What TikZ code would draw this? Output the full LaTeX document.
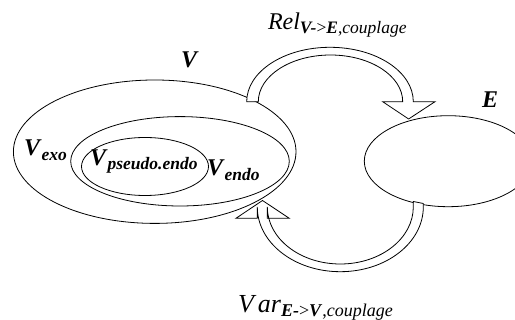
\documentclass[tikz,border=0pt]{standalone}
\usepackage{fontspec}
\setmainfont{Liberation Serif}
\newcommand{\bi}[1]{\textbf{\textit{#1}}}
\newcommand{\fsMain}{\fontsize{24}{24}\selectfont}
\newcommand{\fsBig}{\fontsize{26}{26}\selectfont}
\newcommand{\fsSub}{\fontsize{17.5}{17.5}\selectfont}
\newcommand{\fsSubB}{\fontsize{18}{18}\selectfont}
\begin{document}
\begin{tikzpicture}[x=1pt,y=1pt,
  ring/.style={draw=black,line width=0.8pt},
  blockarrow/.style={draw=black,fill=white,line width=0.8pt,line join=miter},
  lbl/.style={anchor=base west,inner sep=0pt,outer sep=0pt}]
\useasboundingbox (0,0) rectangle (515,-320);
% ellipses
\draw[ring] (154.7,-151.7) ellipse[x radius=141.3,y radius=71.7];
\draw[ring] (180,-161.3) ellipse[x radius=109.3,y radius=44.7];
\draw[ring] (145,-166.5) ellipse[x radius=63.5,y radius=29];
\draw[ring] (448.2,-161.2) ellipse[x radius=83.9,y radius=45.5];
\node[inner sep=0pt,minimum size=0pt] (Vset) at (154.7,-151.7) {};
\node[inner sep=0pt,minimum size=0pt] (Eset) at (448.2,-161.2) {};
% top block arrow V -> E
\draw[blockarrow] (246.7,-101.7)
  arc[start angle=180,end angle=0,x radius=83.3,y radius=54.4]
  -- (435,-101.7) -- (408.6,-119) -- (382.7,-101.7) -- (402.7,-101.7)
  arc[start angle=0,end angle=180,x radius=72.2,y radius=46.7]
  -- cycle;
% bottom block arrow E -> V
\draw[blockarrow] (413.3,-201.5) -- (423.3,-203.5) -- (423.3,-207)
  arc[start angle=0,end angle=-180,x radius=83,y radius=64.7]
  -- (257.3,-218.3) -- (236,-218.3) -- (262.5,-200.5) -- (289.3,-218.3)
  -- (267.3,-218.3) -- (267.3,-207)
  arc[start angle=180,end angle=360,x radius=73,y radius=57]
  -- cycle;
% labels
\node[lbl] (lV) at (181,-68) {\fsMain\bi{V}};
\node[lbl] (lE) at (482,-108) {\fsMain\bi{E}};
\node[lbl] (lexo) at (24,-156) {{\fsMain\bi{V}}\raisebox{-5pt}{\fsSub\bi{exo}}};
\node[lbl] (lpseudo) at (90,-165.5) {{\fsMain\bi{V}}\raisebox{-4.5pt}{\fsSub\bi{pseudo.endo}}};
\node[lbl] (lendo) at (207,-176) {{\fsMain\bi{V}}\raisebox{-4.5pt}{\fsSub\bi{endo}}};
\node[lbl] (lrel) at (268,-30) {{\fsMain\textit{Rel}}\raisebox{-3.5pt}{\fsSub\bi{V-}>\bi{E},\textit{couplage}}};
\node[lbl] (lvar) at (238,-313) {{\fsBig\textit{V\kern4pt ar}}\raisebox{-3.5pt}{\fsSubB\bi{E-}>\bi{V},\textit{couplage}}};
\end{tikzpicture}
\end{document}
